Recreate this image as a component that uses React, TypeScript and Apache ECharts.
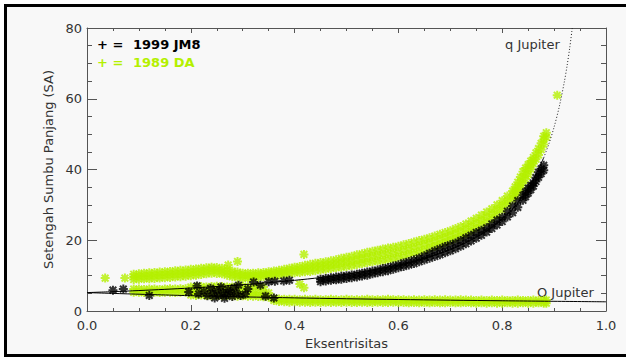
import React, { useEffect, useRef } from "react";
import * as echarts from "echarts";

// Axis tick labels
const xTickLabels = ["0.0", "0.2", "0.4", "0.6", "0.8", "1.0"];
const yTickLabels = ["0", "20", "40", "60", "80"];

const xTitle = "Eksentrisitas";
const yTitle = "Setengah Sumbu Panjang (SA)";

// 1989 DA clones — main band: [eccentricity, semi-major axes (AU)]
const daBandColumns: [number, number[]][] = [
  [0.09, [8.9, 9.7, 10.4]], [0.10, [9.0, 9.8, 10.5]], [0.11, [9.1, 9.9, 10.7]],
  [0.12, [9.1, 10.0, 10.8]], [0.13, [9.2, 10.1, 10.9]], [0.14, [9.3, 10.2, 11.0]],
  [0.15, [9.4, 10.3, 11.1]], [0.16, [9.5, 10.4, 11.2]], [0.17, [9.6, 10.5, 11.4]],
  [0.18, [9.7, 10.6, 11.5]], [0.19, [9.8, 10.7, 11.6]], [0.20, [10.0, 10.9, 11.8]],
  [0.21, [10.1, 11.0, 11.9]], [0.22, [10.3, 11.2, 12.1]], [0.23, [10.5, 11.4, 12.2]],
  [0.24, [10.7, 11.6, 12.4]], [0.25, [10.6, 11.5, 12.3]], [0.26, [10.5, 11.3, 12.1]],
  [0.27, [10.1, 10.9, 11.7]], [0.28, [9.7, 10.5, 11.3]], [0.29, [9.5, 10.3, 11.0]],
  [0.30, [9.3, 10.0, 10.7]], [0.31, [9.3, 10.0, 10.7]], [0.32, [9.4, 10.1, 10.7]],
  [0.33, [9.5, 10.2, 10.8]], [0.34, [9.7, 10.3, 10.9]], [0.35, [9.8, 10.5, 11.1]],
  [0.36, [10.0, 10.7, 11.3]], [0.37, [10.2, 10.9, 11.5]], [0.38, [10.4, 11.1, 11.8]],
  [0.39, [10.6, 11.4, 12.1]], [0.40, [10.8, 11.6, 12.4]], [0.41, [10.9, 11.8, 12.6]],
  [0.42, [11.1, 12.0, 12.9]], [0.43, [11.2, 12.2, 13.2]], [0.44, [11.4, 12.5, 13.5]],
  [0.45, [11.6, 12.7, 13.7]], [0.46, [11.8, 12.9, 13.9]], [0.47, [12.0, 13.1, 14.2]],
  [0.48, [12.2, 13.4, 14.5]], [0.49, [12.4, 13.7, 14.9]], [0.50, [12.6, 13.9, 15.2]],
  [0.51, [12.8, 14.1, 15.5]], [0.52, [13.1, 14.5, 15.9]], [0.53, [13.4, 14.8, 16.2]],
  [0.54, [13.7, 15.1, 16.6]], [0.55, [13.9, 15.4, 16.9]], [0.56, [14.1, 15.6, 17.2]],
  [0.57, [14.3, 15.9, 17.5]], [0.58, [14.6, 16.2, 17.8]], [0.59, [14.8, 16.4, 18.0]],
  [0.60, [15.1, 16.7, 18.3]], [0.61, [15.5, 17.1, 18.7]], [0.62, [15.9, 17.5, 19.1]],
  [0.63, [16.3, 17.9, 19.5]], [0.64, [16.7, 18.3, 19.9]], [0.65, [17.2, 18.8, 20.3]],
  [0.66, [17.7, 19.2, 20.7]], [0.67, [18.2, 19.7, 21.2]], [0.68, [18.7, 20.2, 21.7]],
  [0.69, [19.3, 20.8, 22.2]], [0.70, [19.9, 21.3, 22.7]], [0.71, [20.5, 21.9, 23.3]],
  [0.72, [21.1, 22.5, 23.9]], [0.73, [21.8, 23.2, 24.6]], [0.74, [22.6, 24.0, 25.4]],
  [0.75, [23.4, 24.8, 26.2]], [0.76, [24.3, 25.7, 27.1]], [0.77, [25.2, 26.6, 28.0]],
  [0.78, [26.1, 27.5, 28.9]], [0.79, [27.3, 28.7, 30.0]], [0.80, [28.6, 29.9, 31.2]],
  [0.81, [30.1, 31.3, 32.5]], [0.82, [31.6, 32.8, 33.9]], [0.825, [32.6, 33.9, 35.1]],
  [0.83, [33.6, 35.0, 36.4]], [0.835, [34.8, 36.3, 37.9]], [0.84, [36.1, 37.7, 39.4]],
  [0.845, [37.3, 38.8, 40.4]], [0.85, [38.6, 40.0, 41.4]], [0.855, [40.1, 41.3, 42.4]],
  [0.86, [41.6, 42.6, 43.4]], [0.865, [42.9, 44.7]], [0.87, [44.1, 45.9]],
  [0.875, [45.6, 47.4]], [0.88, [47.1, 48.5, 49.4]], [0.885, [49.1, 50.4]],
];

// 1989 DA clones — thin band below Jupiter's aphelion distance
const daLowColumns: [number, number[]][] = [
  [0.36, [3.0, 3.6]], [0.37, [2.7, 3.4]], [0.38, [2.6, 3.3]], [0.39, [2.5, 3.3]],
  [0.40, [2.6, 3.3]], [0.41, [2.5, 3.2]], [0.42, [2.5, 3.3]], [0.43, [2.4, 3.2]],
  [0.44, [2.5, 3.3]], [0.45, [2.4, 3.2]], [0.46, [2.5, 3.2]], [0.47, [2.4, 3.3]],
  [0.48, [2.5, 3.2]], [0.49, [2.4, 3.2]], [0.50, [2.5, 3.3]], [0.51, [2.4, 3.2]],
  [0.52, [2.4, 3.2]], [0.53, [2.5, 3.2]], [0.54, [2.4, 3.3]], [0.55, [2.4, 3.2]],
  [0.56, [2.5, 3.2]], [0.57, [2.4, 3.2]], [0.58, [2.4, 3.3]], [0.59, [2.5, 3.2]],
  [0.60, [2.4, 3.2]], [0.61, [2.4, 3.2]], [0.62, [2.3, 3.1]], [0.63, [2.4, 3.2]],
  [0.64, [2.3, 3.1]], [0.65, [2.4, 3.2]], [0.66, [2.3, 3.1]], [0.67, [2.4, 3.2]],
  [0.68, [2.3, 3.1]], [0.69, [2.3, 3.2]], [0.70, [2.4, 3.1]], [0.71, [2.3, 3.1]],
  [0.72, [2.3, 3.2]], [0.73, [2.4, 3.1]], [0.74, [2.3, 3.1]], [0.75, [2.2, 3.0]],
  [0.76, [2.3, 3.1]], [0.77, [2.2, 3.0]], [0.78, [2.3, 3.1]], [0.79, [2.2, 3.0]],
  [0.80, [2.2, 3.1]], [0.81, [2.3, 3.0]], [0.82, [2.2, 3.0]], [0.83, [2.2, 3.1]],
  [0.84, [2.3, 3.0]], [0.85, [2.2, 3.0]], [0.86, [2.2, 3.1]], [0.87, [2.3, 3.0]],
  [0.88, [2.2, 3.0]], [0.885, [2.2, 3.1]],
];

// 1989 DA clones — inner group near a = 4–7 AU
const daInnerColumns: [number, number[]][] = [
  [0.09, [5.3, 6.2]], [0.10, [5.3, 6.2]], [0.11, [5.2, 6.1]], [0.12, [5.3, 6.2]],
  [0.13, [5.3, 6.2]], [0.14, [5.2, 6.1]], [0.15, [5.3, 6.2]], [0.16, [5.3, 6.3]],
  [0.17, [5.2, 6.2]], [0.18, [5.3, 6.3]], [0.19, [5.3, 6.3]], [0.20, [4.5, 5.6, 6.8]],
  [0.21, [4.4, 5.6, 6.8]], [0.22, [4.5, 5.7, 6.9]], [0.23, [4.4, 5.6, 6.8]],
  [0.24, [4.3, 5.6, 6.9]], [0.25, [4.4, 5.7, 7.0]], [0.26, [4.3, 5.6, 6.9]],
  [0.27, [4.4, 5.6, 6.8]], [0.28, [4.3, 5.5, 6.8]], [0.29, [4.2, 5.5, 6.9]],
  [0.30, [4.3, 5.5, 7.0]], [0.31, [4.2, 5.4, 6.8]], [0.32, [4.2, 5.4, 6.9]],
  [0.33, [4.1, 5.3, 7.0]], [0.34, [4.0, 5.2, 6.8]], [0.35, [3.9, 5.1]],
];

// 1989 DA clones — scattered individuals
const daLoose: number[][] = [
  [0.035, 9.3], [0.073, 9.3], [0.272, 13.0], [0.29, 14.0],
  [0.41, 7.6], [0.418, 6.6], [0.418, 16.0], [0.906, 61.0],
];

// 1999 JM8 clones — main band along Jupiter's perihelion curve
const jm8BandColumns: [number, number[]][] = [
  [0.45, [8.3, 9.0]], [0.46, [8.5, 9.2]], [0.47, [8.7, 9.4]], [0.48, [8.8, 9.6]],
  [0.49, [9.0, 9.8]], [0.50, [9.2, 10.0]], [0.51, [9.4, 10.2]], [0.52, [9.6, 10.4]],
  [0.53, [9.9, 10.7]], [0.54, [10.1, 11.0]], [0.55, [10.5, 11.3]], [0.56, [10.8, 11.6]],
  [0.57, [11.1, 12.0]], [0.58, [11.4, 12.3]], [0.59, [11.8, 12.7]], [0.60, [12.2, 13.1]],
  [0.61, [12.6, 13.6]], [0.62, [13.0, 14.0]], [0.63, [13.4, 14.5]], [0.64, [13.9, 15.0]],
  [0.65, [14.4, 15.6]], [0.66, [14.9, 16.3]], [0.67, [15.4, 17.0]], [0.68, [15.9, 17.6]],
  [0.69, [16.5, 18.2]], [0.70, [17.0, 18.7]], [0.71, [17.6, 19.2]], [0.72, [18.3, 19.9]],
  [0.73, [19.0, 20.7]], [0.74, [19.8, 21.4]], [0.75, [20.6, 22.2]], [0.76, [21.4, 22.8]],
  [0.77, [22.3, 23.5]], [0.78, [23.3, 24.6]], [0.79, [24.3, 25.7]], [0.80, [25.3, 26.5]],
  [0.81, [26.6, 28.2]], [0.82, [27.8, 29.7]], [0.83, [29.3, 31.2]], [0.84, [31.3, 32.7]],
  [0.845, [32.3, 33.7]], [0.85, [33.3, 34.7]], [0.855, [34.3, 35.5]], [0.86, [35.3, 36.2]],
  [0.865, [36.6, 37.7]], [0.87, [37.8, 39.2]], [0.875, [38.8, 40.2]], [0.88, [39.8, 41.2]],
];

// 1999 JM8 clones — scattered individuals at low eccentricity
const jm8Loose: number[][] = [
  [0.05, 5.9], [0.07, 6.2], [0.12, 4.4], [0.196, 5.4], [0.212, 7.1], [0.215, 4.8],
  [0.225, 5.6], [0.232, 4.3], [0.238, 6.4], [0.242, 5.0], [0.246, 3.7], [0.25, 5.8],
  [0.254, 4.4], [0.258, 6.8], [0.262, 5.2], [0.265, 3.6], [0.268, 4.6], [0.272, 6.1],
  [0.276, 5.3], [0.28, 4.1], [0.284, 6.6], [0.288, 5.0], [0.292, 7.3], [0.296, 4.4],
  [0.305, 4.8], [0.31, 6.2], [0.321, 8.2], [0.334, 7.3], [0.344, 4.2], [0.35, 8.3],
  [0.36, 3.7], [0.362, 8.4], [0.379, 8.5], [0.39, 8.7],
];

// Jupiter's perihelion distance q = 5.2 AU, in (e, a)
const qJupiterLow: number[][] = [
  [0, 5.2], [0.05, 5.47], [0.1, 5.78], [0.15, 6.12], [0.2, 6.5], [0.25, 6.93],
  [0.3, 7.43], [0.35, 8.0], [0.4, 8.67], [0.45, 9.45], [0.5, 10.4], [0.55, 11.56],
  [0.6, 13.0], [0.65, 14.86], [0.7, 17.33], [0.75, 20.8], [0.78, 23.64], [0.8, 26.0],
  [0.82, 28.89], [0.84, 32.5], [0.86, 37.14], [0.88, 43.33],
];
const qJupiterHigh: number[][] = [
  [0.88, 43.33], [0.89, 47.27], [0.9, 52.0], [0.91, 57.78], [0.92, 65.0],
  [0.925, 69.33], [0.93, 74.29], [0.935, 80.0],
];

// Jupiter's aphelion distance Q = 5.2 AU, in (e, a)
const QJupiter: number[][] = [
  [0, 5.2], [0.2, 4.33], [0.4, 3.71], [0.6, 3.25], [0.8, 2.89], [1.0, 2.6],
];

const seriesNames = ["1999 JM8", "1989 DA"];
const seriesColors = ["#000000", "#b4f000"];
const curveLabels = ["q Jupiter", "Q Jupiter"];

const toPoints = (cols: [number, number[]][]) =>
  cols.flatMap(([e, list]) => list.map((a) => [e, a]));

// Eight-armed asterisk marker (plus and cross), all sub-paths wound the same way
const ASTERISK =
  "path://M0 3.9H10V6.1H0Z M3.9 0H6.1V10H3.9Z M2.08 0.52L9.48 7.92L7.92 9.48L0.52 2.08Z M7.92 0.52L9.48 2.08L2.08 9.48L0.52 7.92Z";

const FONT = "DejaVu Sans";
const AXIS_COLOR = "#555";
const TEXT_COLOR = "#333";

function axisCommon(tickLen: number, minorLen: number) {
  return {
    axisLine: { show: true, onZero: false, lineStyle: { color: AXIS_COLOR, width: 1 } },
    axisTick: { show: true, inside: true, length: tickLen, lineStyle: { color: AXIS_COLOR } },
    minorTick: { show: true, splitNumber: 4, length: minorLen, lineStyle: { color: AXIS_COLOR } },
    splitLine: { show: false },
  };
}

export default function App() {
  const ref = useRef<HTMLDivElement>(null);

  useEffect(() => {
    if (!ref.current) return;
    const chart = echarts.init(ref.current, undefined, { renderer: "svg" });

    const labelStyle = { color: TEXT_COLOR, fontFamily: FONT, fontSize: 13 };

    chart.setOption({
      animation: false,
      backgroundColor: "#ffffff",
      grid: { left: 87, right: 20, top: 28, bottom: 47, containLabel: false },
      xAxis: [
        {
          type: "value",
          position: "bottom",
          min: 0,
          max: 1,
          interval: 0.2,
          ...axisCommon(6, 3),
          axisLabel: {
            ...labelStyle,
            margin: 8,
            formatter: (v: number) => xTickLabels[Math.round(v / 0.2)] ?? "",
          },
          name: xTitle,
          nameLocation: "middle",
          nameGap: 22,
          nameTextStyle: labelStyle,
        },
        {
          type: "value",
          position: "top",
          min: 0,
          max: 1,
          interval: 0.2,
          ...axisCommon(5, 3),
          axisLabel: { show: false },
        },
      ],
      yAxis: [
        {
          type: "value",
          position: "left",
          min: 0,
          max: 80,
          interval: 20,
          ...axisCommon(10, 5),
          axisLabel: {
            ...labelStyle,
            margin: 5,
            formatter: (v: number) => yTickLabels[Math.round(v / 20)] ?? "",
          },
          name: yTitle,
          nameLocation: "middle",
          nameGap: 28,
          nameTextStyle: labelStyle,
        },
        {
          type: "value",
          position: "right",
          min: 0,
          max: 80,
          interval: 20,
          ...axisCommon(10, 5),
          axisLabel: { show: false },
        },
      ],
      graphic: [
        {
          type: "rect",
          silent: true,
          z: -10,
          shape: { x: 5.5, y: 5.5, width: 640, height: 350 },
          style: { fill: "#f8f8f8", stroke: "#000", lineWidth: 3 },
        },
        {
          type: "text",
          x: 97,
          y: 44,
          style: { text: "+ =", fill: seriesColors[0], font: `bold 13px '${FONT}'`, textVerticalAlign: "middle" },
        },
        {
          type: "text",
          x: 133,
          y: 44,
          style: { text: seriesNames[0], fill: seriesColors[0], font: `bold 13px '${FONT}'`, textVerticalAlign: "middle" },
        },
        {
          type: "text",
          x: 97,
          y: 62,
          style: { text: "+ =", fill: seriesColors[1], font: `bold 13px '${FONT}'`, textVerticalAlign: "middle" },
        },
        {
          type: "text",
          x: 133,
          y: 62,
          style: { text: seriesNames[1], fill: seriesColors[1], font: `bold 13px '${FONT}'`, textVerticalAlign: "middle" },
        },
        {
          type: "text",
          x: 505,
          y: 44,
          style: { text: curveLabels[0], fill: TEXT_COLOR, font: `13px '${FONT}'`, textVerticalAlign: "middle" },
        },
        {
          type: "text",
          x: 537,
          y: 292,
          style: { text: curveLabels[1], fill: TEXT_COLOR, font: `13px '${FONT}'`, textVerticalAlign: "middle" },
        },
      ],
      series: [
        {
          name: seriesNames[1],
          type: "scatter",
          z: 2,
          symbol: ASTERISK,
          symbolSize: 9,
          itemStyle: { color: seriesColors[1] },
          data: [
            ...toPoints(daBandColumns),
            ...toPoints(daLowColumns),
            ...toPoints(daInnerColumns),
            ...daLoose,
          ],
        },
        {
          name: seriesNames[0],
          type: "scatter",
          z: 3,
          symbol: ASTERISK,
          symbolSize: 9,
          itemStyle: { color: seriesColors[0] },
          data: [...toPoints(jm8BandColumns), ...jm8Loose],
        },
        {
          name: curveLabels[0],
          type: "line",
          z: 4,
          smooth: 0.3,
          symbol: "none",
          lineStyle: { color: "#000", width: 1 },
          data: qJupiterLow,
        },
        {
          name: curveLabels[0] + " ",
          type: "line",
          z: 4,
          smooth: 0.3,
          symbol: "none",
          lineStyle: { color: "#222", width: 1, type: [1, 2] },
          data: qJupiterHigh,
        },
        {
          name: curveLabels[1],
          type: "line",
          z: 4,
          smooth: 0.3,
          symbol: "none",
          lineStyle: { color: "#000", width: 1 },
          data: QJupiter,
        },
      ],
    });

    return () => chart.dispose();
  }, []);

  return (
    <div
      ref={ref}
      style={{ position: "absolute", left: 0, top: 0, width: 626, height: 358 }}
    />
  );
}
